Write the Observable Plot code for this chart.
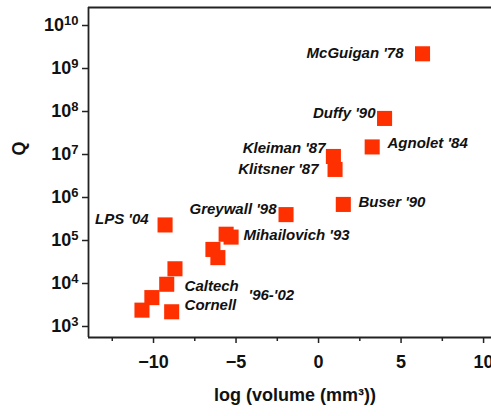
<!DOCTYPE html>
<html>
<head>
<meta charset="utf-8">
<script src="https://cdn.jsdelivr.net/npm/d3@7"></script>
<script src="https://cdn.jsdelivr.net/npm/@observablehq/plot@0.6"></script>
<style>
  html, body { margin: 0; padding: 0; background: #fff; }
  #chart svg { display: block; }
</style>
</head>
<body>
<div id="chart"></div>
<script>
// Data points: log10(volume, mm^3) and quality factor Q
const pointX = [6.3, 4.0, 3.25, 0.9, 1.0, 1.5, -1.97, -9.3, -5.6, -5.3, -6.4, -6.1, -8.7, -9.2, -10.1, -10.7, -8.9];
const pointQ = [2.2e9, 6.9e7, 1.5e7, 9e6, 4.5e6, 6.9e5, 4e5, 2.3e5, 1.4e5, 1.2e5, 6.2e4, 4e4, 2.2e4, 9.6e3, 4.7e3, 2.4e3, 2.2e3];

// Annotation labels (data-space anchor positions)
const labelText = ["McGuigan '78", "Duffy '90", "Agnolet '84", "Kleiman '87", "Klitsner '87", "Buser '90", "Greywall '98", "LPS '04", "Mihailovich '93", "Caltech", "Cornell", "'96-'02"];
const labelX = [5.15, 3.45, 4.18, 0.42, 0.0, 2.42, -2.55, -10.3, -4.55, -8.12, -8.12, -4.24];
const labelLogQ = [9.35, 7.95, 7.26, 7.14, 6.67, 5.88, 5.72, 5.49, 5.12, 3.93, 3.49, 3.72];
const labelAnchor = ["end", "end", "start", "end", "end", "start", "end", "end", "start", "start", "start", "start"];

// Axes
const xTicks = [-10, -5, 0, 5, 10];
const xMinorTicks = [-12.5, -7.5, -2.5, 2.5, 7.5];
const yTickExponents = [3, 4, 5, 6, 7, 8, 9, 10];
const xDomain = [-13.94, 10.48];
const yDomainLog = [2.744, 10.419];
const xAxisLabel = "log (volume (mm³))";
const yAxisLabel = "Q";

const points = pointX.map((x, i) => ({x, q: pointQ[i]}));
const labels = labelText.map((t, i) => ({text: t, x: labelX[i], q: 10 ** labelLogQ[i], anchor: labelAnchor[i]}));
const yDomain = yDomainLog.map(e => 10 ** e);

const labelStyle = {fontSize: 15, fontWeight: "bold", fontStyle: "italic", fill: "#111"};

const chart = Plot.plot({
  width: 491,
  height: 416,
  marginLeft: 88,
  marginRight: 0,
  marginTop: 7,
  marginBottom: 79,
  style: {fontFamily: "'Liberation Sans', Arial, sans-serif", background: "#fff", color: "#111"},
  x: {domain: xDomain},
  y: {type: "log", domain: yDomain},
  marks: [
    Plot.ruleY([yDomain[1]], {stroke: "#222", strokeWidth: 1.8}),
    Plot.ruleY([yDomain[0]], {stroke: "#222", strokeWidth: 1.8}),
    Plot.ruleX([xDomain[0]], {stroke: "#222", strokeWidth: 1.8}),
    Plot.axisX({ticks: xTicks, tickSize: 6, tickPadding: 12, fontSize: 18, fontWeight: "bold", label: null, strokeWidth: 1.5, stroke: "#222"}),
    Plot.axisX({ticks: xMinorTicks, tickSize: 4, tickFormat: () => "", label: null, strokeWidth: 1.5, stroke: "#222"}),
    Plot.axisY({ticks: yTickExponents.map(e => 10 ** e), tickSize: 6, tickPadding: 4, fontSize: 18, fontWeight: "bold", tickFormat: d => "10^" + Math.round(Math.log10(d)), label: null, strokeWidth: 1.5, stroke: "#222"}),
    Plot.dot(points, {x: "x", y: "q", symbol: "square", r: 8.5, fill: "#ff3000", stroke: "none"}),
    Plot.text(labels.filter(d => d.anchor === "end"), {x: "x", y: "q", text: "text", textAnchor: "end", ...labelStyle}),
    Plot.text(labels.filter(d => d.anchor === "start"), {x: "x", y: "q", text: "text", textAnchor: "start", ...labelStyle}),
    Plot.text([xAxisLabel], {frameAnchor: "bottom", dx: 5, dy: 63, fontSize: 18, fontWeight: "bold", fill: "#111"}),
    Plot.text([yAxisLabel], {frameAnchor: "left", rotate: -90, dx: -69, dy: -17, fontSize: 18, fontWeight: "bold", fill: "#111"})
  ]
});

// Render y tick labels as 10 with a superscript exponent
d3.select(chart).selectAll("g[aria-label='y-axis tick label'] text").each(function() {
  const t = this.textContent;
  const m = t.match(/^10\^(\d+)$/);
  if (m) {
    const sel = d3.select(this);
    sel.text("10");
    sel.append("tspan").attr("font-size", 13).attr("dy", "-0.45em").text(m[1]);
  }
});

document.getElementById("chart").appendChild(chart);
</script>
</body>
</html>
